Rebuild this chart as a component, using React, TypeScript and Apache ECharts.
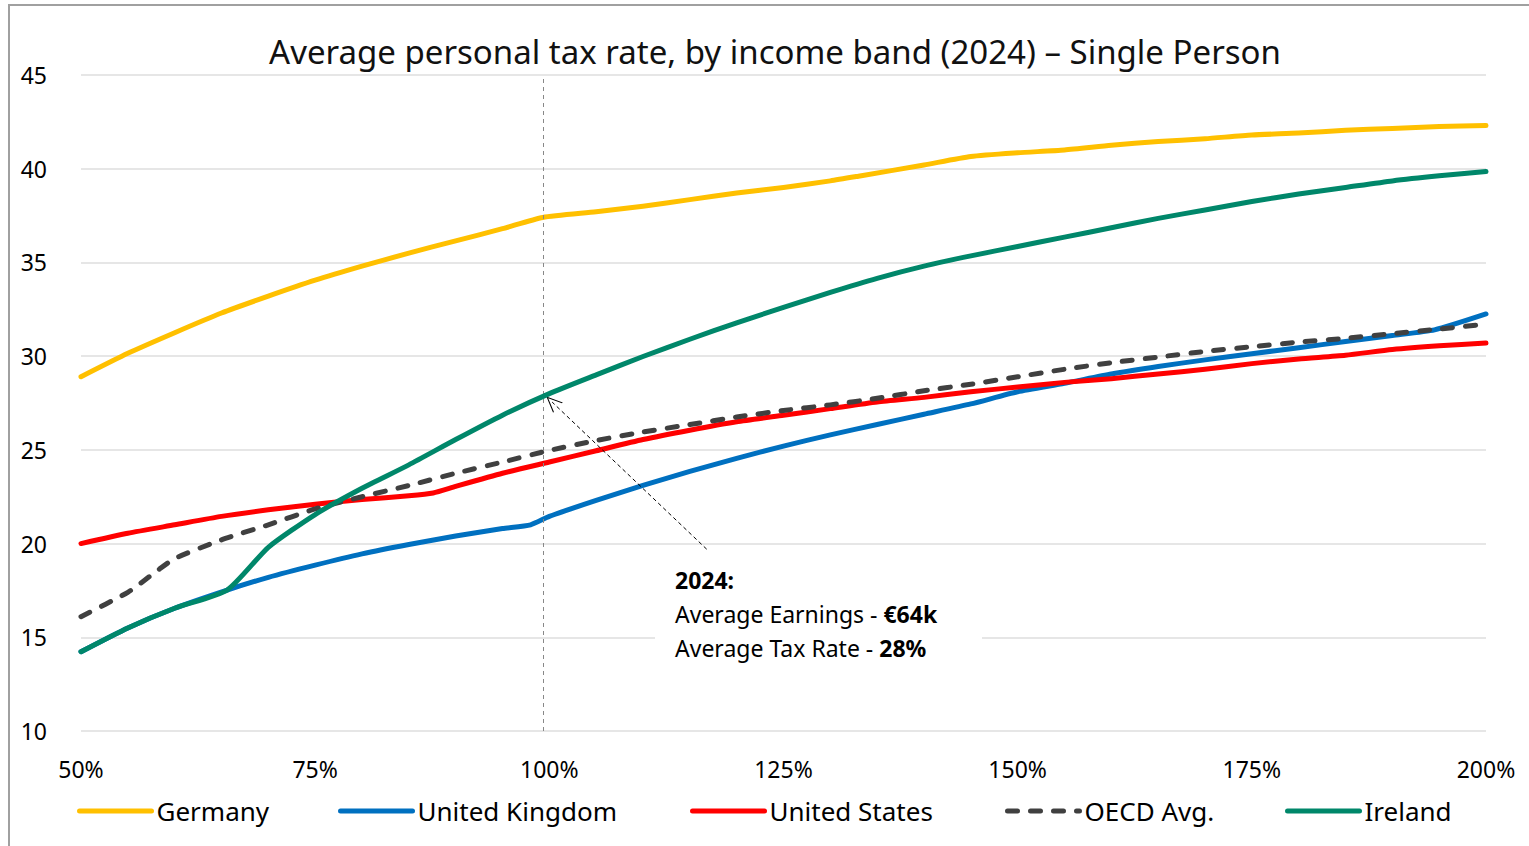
import React, { useEffect, useRef } from "react";
import * as echarts from "echarts";

const TITLE = "Average personal tax rate, by income band (2024) – Single Person";
const FONT = "'Noto Sans', 'Open Sans', sans-serif";

// x = income as % of average earnings, y = average personal tax rate (%)
const germany: [number, number][] = [
  [50, 28.9], [55, 30.15], [60, 31.25], [65, 32.3], [70, 33.2], [75, 34.05], [80, 34.8],
  [85, 35.5], [90, 36.15], [95, 36.8], [99.3, 37.4], [105, 37.7], [110, 38.0], [115, 38.35],
  [120, 38.7], [125, 39.0], [130, 39.35], [133, 39.6], [140, 40.2], [145, 40.65], [150, 40.85],
  [155, 41.0], [160, 41.25], [165, 41.45], [170, 41.6], [175, 41.8], [180, 41.9], [185, 42.05],
  [190, 42.15], [195, 42.25], [200, 42.3],
];
const unitedKingdom: [number, number][] = [
  [50, 14.23], [55, 15.5], [60, 16.55], [65.6, 17.52], [70, 18.2], [75, 18.85], [80, 19.45],
  [85, 19.95], [90, 20.4], [95, 20.8], [98, 21.0], [100, 21.45], [105, 22.3], [110, 23.1],
  [115, 23.85], [120, 24.55], [125, 25.2], [130, 25.8], [135, 26.35], [140, 26.9], [145, 27.45],
  [150, 28.1], [155, 28.55], [160, 29.05], [165, 29.45], [170, 29.8], [175, 30.13], [180, 30.45],
  [185, 30.78], [190, 31.1], [194.5, 31.4], [200, 32.25],
];
const unitedStates: [number, number][] = [
  [50, 20.0], [55, 20.55], [60, 21.0], [65, 21.45], [70, 21.8], [75, 22.1], [80, 22.35],
  [85, 22.55], [87.6, 22.7], [90, 23.05], [95, 23.75], [100, 24.35], [105, 24.95], [110, 25.55],
  [115, 26.05], [120, 26.5], [125, 26.85], [130, 27.2], [135, 27.55], [140, 27.8], [145, 28.1],
  [150, 28.35], [155, 28.6], [160, 28.8], [165, 29.05], [170, 29.3], [175, 29.6], [180, 29.85],
  [185, 30.05], [190, 30.35], [195, 30.55], [200, 30.7],
];
const oecdAvg: [number, number][] = [
  [50, 16.1], [55, 17.4], [58, 18.5], [60, 19.2], [65, 20.2], [70, 21.0], [75, 21.85],
  [80, 22.5], [85, 23.1], [90, 23.75], [95, 24.35], [100, 24.97], [105, 25.5], [110, 25.95],
  [115, 26.35], [120, 26.75], [125, 27.1], [130, 27.4], [135, 27.75], [140, 28.15], [145, 28.5],
  [150, 28.9], [155, 29.3], [160, 29.65], [165, 29.95], [170, 30.25], [175, 30.5], [180, 30.75],
  [185, 30.95], [190, 31.2], [195, 31.45], [200, 31.7],
];
const ireland: [number, number][] = [
  [50, 14.23], [55, 15.5], [60, 16.55], [65.6, 17.52], [70, 19.8], [75, 21.55], [80, 22.95],
  [85, 24.2], [90, 25.55], [95, 26.85], [100, 28.0], [105, 29.0], [110, 29.98], [115, 30.9],
  [120, 31.78], [125, 32.6], [130, 33.4], [135, 34.15], [140, 34.8], [145, 35.35], [150, 35.85],
  [155, 36.35], [160, 36.85], [165, 37.35], [170, 37.8], [175, 38.25], [180, 38.65], [185, 39.0],
  [190, 39.35], [195, 39.62], [200, 39.85],
];

const seriesNames = ["Germany", "United Kingdom", "United States", "OECD Avg.", "Ireland"];
const seriesColors = ["#FFC000", "#0070C0", "#FF0000", "#404040", "#00876A"];
const seriesData = [germany, unitedKingdom, unitedStates, oecdAvg, ireland];
const legendLefts = [72, 333, 685, 1000, 1280];

const averageEarningsMarker = 99.3;
const arrowFrom: [number, number] = [116.8, 19.7];
const arrowTo: [number, number] = [100.3, 27.55];

export default function App() {
  const ref = useRef<HTMLDivElement>(null);

  useEffect(() => {
    if (!ref.current) return;
    const chart = echarts.init(ref.current, undefined, { renderer: "svg" });

    const series: any[] = seriesNames.map((name, i) => ({
      name,
      type: "line",
      data: seriesData[i],
      showSymbol: false,
      symbol: "none",
      smooth: 0.2,
      z: i === 4 ? 6 : 3 + i * 0.1,
      lineStyle: {
        color: seriesColors[i],
        width: 5,
        cap: "round",
        join: "round",
        type: i === 3 ? [10, 13] : "solid",
      },
      itemStyle: { color: seriesColors[i] },
      emphasis: { disabled: true },
    }));

    series[0].markLine = {
      silent: true,
      symbol: ["none", "none"],
      label: { show: false },
      lineStyle: { color: "#888888", type: [4, 4], width: 1 },
      data: [{ xAxis: averageEarningsMarker }],
    };
    series[1].markLine = {
      silent: true,
      symbol: ["none", "path://M0,10 L5,0 L10,10 L9.2,10 L5,1.6 L0.8,10 Z"],
      symbolSize: [14, 16],
      label: { show: false },
      lineStyle: { color: "#000000", type: [4, 3], width: 1 },
      data: [[{ coord: arrowFrom }, { coord: arrowTo }]],
    };

    const legends = seriesNames.map((name, i) => ({
      show: true,
      data: [name],
      left: legendLefts[i],
      top: 793,
      itemWidth: 72,
      itemHeight: 14,
      itemGap: 0,
      selectedMode: false,
      itemStyle: { opacity: 0 },
      lineStyle: { width: 5, cap: "round" },
      textStyle: { fontFamily: FONT, fontSize: 26, color: "#000000" },
    }));

    chart.setOption({
      animation: false,
      backgroundColor: "#ffffff",
      textStyle: { fontFamily: FONT },
      grid: { left: 81, right: 43, top: 75, bottom: 115, containLabel: false },
      xAxis: {
        type: "value",
        min: 50,
        max: 200,
        interval: 25,
        axisLine: { show: false },
        axisTick: { show: false },
        splitLine: { show: false },
        axisLabel: {
          formatter: "{value}%",
          fontFamily: FONT,
          fontSize: 23,
          color: "#000000",
          margin: 26,
        },
      },
      yAxis: {
        type: "value",
        min: 10,
        max: 45,
        interval: 5,
        axisLine: { show: false },
        axisTick: { show: false },
        splitLine: { show: true, lineStyle: { color: "#E6E6E6", width: 2 } },
        axisLabel: {
          fontFamily: FONT,
          fontSize: 23,
          color: "#000000",
          margin: 34,
          align: "right",
        },
      },
      legend: legends,
      series,
      graphic: [
        {
          type: "rect",
          silent: true,
          z: -10,
          shape: { x: 9, y: 5, width: 1600, height: 900 },
          style: { fill: "none", stroke: "#A0A0A0", lineWidth: 2 },
        },
        {
          type: "text",
          silent: true,
          style: {
            x: 775,
            y: 51,
            text: TITLE,
            font: `33px ${FONT}`,
            fill: "#111111",
            textAlign: "center",
            textVerticalAlign: "middle",
          },
        },
        {
          type: "rect",
          silent: true,
          z: 20,
          shape: { x: 655, y: 562, width: 327, height: 104 },
          style: { fill: "#ffffff" },
        },
        {
          type: "text",
          silent: true,
          z: 21,
          x: 675,
          y: 563,
          style: {
            text: "{b|2024:}\n{n|Average Earnings - }{b|€64k}\n{n|Average Tax Rate - }{b|28%}",
            rich: {
              n: { font: `23px ${FONT}`, fill: "#000000", lineHeight: 34 },
              b: { font: `bold 23px ${FONT}`, fill: "#000000", lineHeight: 34 },
            },
          },
        },
      ],
    });

    return () => chart.dispose();
  }, []);

  return (
    <div
      ref={ref}
      style={{ position: "fixed", left: 0, top: 0, width: 1529, height: 846, background: "#fff" }}
    />
  );
}
